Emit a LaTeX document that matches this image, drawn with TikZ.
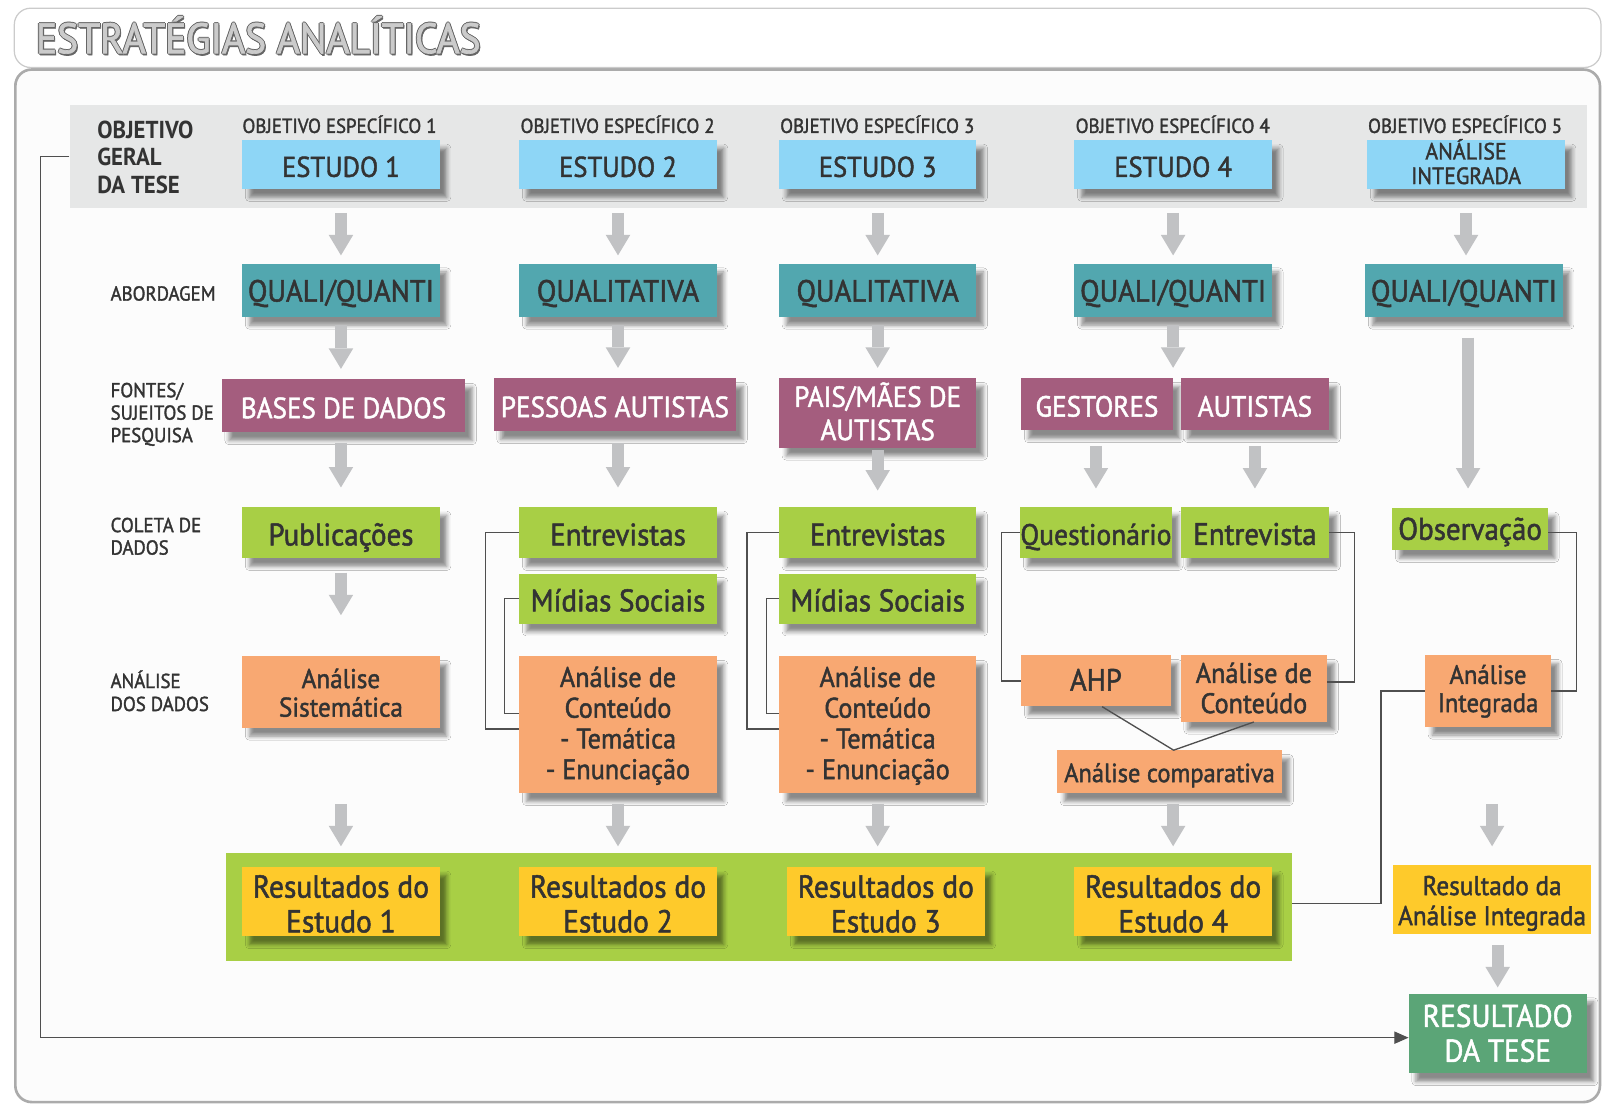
\documentclass[tikz,border=0pt]{standalone}
\usepackage{fontspec}
\setmainfont{PT Sans}[FakeStretch=0.93,UprightFeatures={FakeBold=1.6}]
\usetikzlibrary{arrows.meta,shadows.blur,calc}

\definecolor{cInk}{HTML}{333333}
\definecolor{cBand}{HTML}{E6E7E7}
\definecolor{cSky}{HTML}{8ED6F6}
\definecolor{cTeal}{HTML}{52A7AF}
\definecolor{cPlum}{HTML}{A45D7E}
\definecolor{cLime}{HTML}{A8CF45}
\definecolor{cPeach}{HTML}{F8A872}
\definecolor{cGold}{HTML}{FECA2B}
\definecolor{cSage}{HTML}{5BA577}
\definecolor{cArrow}{HTML}{C1C2C4}
\definecolor{cLink}{HTML}{4F4F4F}
\definecolor{cPanel}{HTML}{FCFCFC}
\definecolor{cRim}{HTML}{ABABAB}
\definecolor{cTitleFill}{HTML}{CBCBCB}
\definecolor{cTitleLine}{HTML}{666666}

% outlined title lettering
\newcommand\ringtext[1]{\leavevmode
  \rlap{\color{cTitleLine}\raisebox{1pt}{#1}}%
  \rlap{\color{cTitleLine}\raisebox{-1pt}{#1}}%
  \rlap{\color{cTitleLine}\kern1pt#1}%
  \rlap{\color{cTitleLine}\kern-1pt#1}%
  \rlap{\color{cTitleLine}\kern1.2pt\raisebox{-1.8pt}{#1}}%
  {\color{cTitleFill}#1}}

\newcommand\fs[2]{\fontsize{#1}{#2}\selectfont}
% stacked lines, baseline on the first line
\newcommand\ml[1]{\begin{tabular}[t]{@{}c@{}}#1\end{tabular}}
\newcommand\mll[1]{\begin{tabular}[t]{@{}l@{}}#1\end{tabular}}

\begin{document}
\begin{tikzpicture}[x=1pt,y=-1pt,
  shade/.style={blur shadow={shadow xshift=7pt,shadow yshift=-8pt,shadow blur radius=4pt,shadow opacity=45}},
  th/.style={text height=#1,text depth=0pt},
  td/.style={text height=0pt,text depth=#1},
  box/.style={inner sep=0pt,text=cInk,minimum width=193pt,shade},
  estudo/.style={box,fill=cSky,minimum height=48pt,font=\fs{28}{32},th=24pt},
  abord/.style={box,fill=cTeal,minimum height=52pt,font=\fs{30}{34},th=22pt},
  fonte/.style={box,fill=cPlum,text=white,minimum height=52pt,font=\fs{28.5}{32.5},th=24pt},
  coleta/.style={box,fill=cLime,minimum height=50pt,font=\fs{30.5}{34},th=25pt},
  anal/.style={box,fill=cPeach,font=\fs{27.6}{30}},
  result/.style={box,fill=cGold,minimum height=68pt,font=\fs{31}{34},td=8pt},
  hdr/.style={anchor=base west,inner sep=0pt,text=cInk,font=\fs{19.8}{22}},
  rowlab/.style={anchor=base west,inner sep=0pt,text=cInk,font=\fs{19.8}{22}},
  bigarrow/.style={draw=cArrow,line width=12pt,-{Triangle[width=24pt,length=20pt,line width=0pt]}},
  link/.style={draw=cLink,line width=1.3pt},
]
\useasboundingbox (0,0) rectangle (1568,1080);

% frames
\draw[fill=cPanel,draw=cRim,line width=2.6pt,rounded corners=16pt] (15,68) rectangle (1565,1078);
\draw[fill=white,draw=cTitleFill,line width=1.2pt,rounded corners=16pt] (14,8) rectangle (1566,66);
\node[anchor=base west,inner sep=0pt,font=\fs{41.6}{44}] (title) at (35,52) {\ringtext{ESTRATÉGIAS ANALÍTICAS}};

% header band
\node[fill=cBand,minimum width=1484pt,minimum height=100pt,inner sep=0pt] (band) at (810,153) {};
\node[rowlab,font=\bfseries\fs{24}{27}] (geral) at (95,135) {\mll{OBJETIVO\\GERAL\\DA TESE}};

\node[hdr] (h1) at (237,130) {OBJETIVO ESPECÍFICO 1};
\node[hdr] (h2) at (509,130) {OBJETIVO ESPECÍFICO 2};
\node[hdr] (h3) at (763,130) {OBJETIVO ESPECÍFICO 3};
\node[hdr] (h4) at (1052,130) {OBJETIVO ESPECÍFICO 4};
\node[hdr] (h5) at (1338,130) {OBJETIVO ESPECÍFICO 5};

\node[estudo] (e1) at (333.5,161) {ESTUDO 1};
\node[estudo] (e2) at (604.5,161) {ESTUDO 2};
\node[estudo] (e3) at (858.5,161) {ESTUDO 3};
\node[estudo] (e4) at (1147.5,161) {ESTUDO 4};
\node[estudo,font=\fs{23}{24},td=10pt] (e5) at (1434,161) {\ml{ANÁLISE\\INTEGRADA}};

% row labels
\node[rowlab] (l1) at (108,294) {ABORDAGEM};
\node[rowlab] (l2) at (108,388.5) {\mll{FONTES/\\SUJEITOS DE\\PESQUISA}};
\node[rowlab] (l3) at (108,520.5) {\mll{COLETA DE\\DADOS}};
\node[rowlab,font=\fs{19.8}{22.5}] (l4) at (108,673) {\mll{ANÁLISE\\DOS DADOS}};

% approach
\node[abord] (q1) at (333.5,284) {QUALI/QUANTI};
\node[abord] (q2) at (604.5,284) {QUALITATIVA};
\node[abord] (q3) at (858.5,284) {QUALITATIVA};
\node[abord] (q4) at (1147.5,284) {QUALI/QUANTI};
\node[abord] (q5) at (1432,284) {QUALI/QUANTI};

% sources
\node[fonte,minimum width=238pt] (b1) at (336,397) {BASES DE DADOS};
\node[fonte,minimum width=237pt] (b2) at (601.5,396) {PESSOAS AUTISTAS};
\node[fonte,minimum height=68pt,td=12pt] (b3) at (858.5,404) {\ml{PAIS/MÃES DE\\AUTISTAS}};
\node[fonte,minimum width=148pt,minimum height=51pt] (b4) at (1073,395.5) {GESTORES};
\node[fonte,minimum width=145pt,minimum height=51pt] (b5) at (1227.5,395.5) {AUTISTAS};

% data collection
\node[coleta] (p1) at (333.5,521) {Publicações};
\node[coleta] (c2a) at (604.5,521) {Entrevistas};
\node[coleta,minimum height=49pt] (c2b) at (604.5,585.5) {Mídias Sociais};
\node[coleta] (c3a) at (858.5,521) {Entrevistas};
\node[coleta,minimum height=49pt] (c3b) at (858.5,585.5) {Mídias Sociais};
\node[coleta,minimum width=146pt,font=\fs{29}{34},th=24pt] (c4a) at (1072,521) {Questionário};
\node[coleta,minimum width=145pt,th=24pt] (c4b) at (1227.5,521) {Entrevista};
\node[coleta,minimum width=152pt,minimum height=41pt,th=21pt] (c5) at (1438,517.5) {Observação};

% analysis
\node[anal,minimum height=70pt,font=\fs{26.5}{28},td=8pt] (a1) at (333.5,677) {\ml{Análise\\Sistemática}};
\node[anal,minimum height=134pt,td=74pt] (a2) at (604.5,709) {\ml{Análise de\\Conteúdo\\- Temática\\- Enunciação}};
\node[anal,minimum height=134pt,td=74pt] (a3) at (858.5,709) {\ml{Análise de\\Conteúdo\\- Temática\\- Enunciação}};
\node[anal,minimum width=146pt,minimum height=50pt,font=\fs{30}{34},th=19pt] (a4a) at (1072,666) {AHP};
\node[anal,minimum width=143pt,minimum height=65pt,font=\fs{27.6}{29.5},td=11pt] (a4b) at (1226.5,673.5) {\ml{Análise de\\Conteúdo}};
\node[anal,minimum width=220pt,minimum height=42pt,font=\fs{25.7}{28},th=20pt] (a4c) at (1144,755) {Análise comparativa};
\node[anal,minimum width=123pt,minimum height=70pt,font=\fs{26}{27.5},td=14pt] (a5) at (1455.5,676) {\ml{Análise\\Integrada}};

% results
\node[fill=cLime,minimum width=1043pt,minimum height=106pt,inner sep=0pt] (rp) at (742.5,887) {};
\node[result] (r1) at (333.5,882) {\ml{Resultados do\\Estudo 1}};
\node[result] (r2) at (604.5,882) {\ml{Resultados do\\Estudo 2}};
\node[result] (r3) at (866.5,882) {\ml{Resultados do\\Estudo 3}};
\node[result] (r4) at (1147.5,882) {\ml{Resultados do\\Estudo 4}};
\node[inner sep=0pt,text=cInk,fill=cGold,minimum width=193pt,minimum height=68pt,font=\fs{26.5}{29.5},td=9pt] (r5) at (1459.5,880) {\ml{Resultado da\\Análise Integrada}};
\node[box,fill=cSage,text=white,minimum width=174pt,minimum height=78pt,font=\fs{30.8}{34},td=13pt] (tese) at (1465,1011) {\ml{RESULTADO\\DA TESE}};

% block arrows
\foreach \e/\q in {e1/q1,e2/q2,e3/q3,e4/q4,e5/q5}
  \draw[bigarrow,shorten <=5pt,shorten >=8pt] (\e.south |- band.south) -- (\e.south |- \q.north);
\foreach \q/\b in {q1/b1,q2/b2,q3/b3,q4/b4}
  \draw[bigarrow,shorten <=8pt,shorten >=10pt] (\q.south) -- (\q.south |- \b.north);
\draw[bigarrow,shorten <=20pt,shorten >=19pt] ([xshift=4pt]q5.south) -- ([xshift=4pt]q5.south |- c5.north);
\draw[bigarrow,shorten <=10pt,shorten >=19pt] (p1.north |- b1.south) -- (p1.north);
\draw[bigarrow,shorten <=11pt,shorten >=19pt] (c2a.north |- b2.south) -- (c2a.north);
\draw[bigarrow,shorten <=2pt,shorten >=16pt] (b3.south) -- (c3a.north);
\draw[bigarrow,shorten <=15pt,shorten >=18pt] (c4a.north |- b4.south) -- (c4a.north);
\draw[bigarrow,shorten <=15pt,shorten >=18pt] (c4b.north |- b5.south) -- (c4b.north);
\draw[bigarrow,shorten <=14pt,shorten >=40pt] (p1.south) -- (a1.north);
\draw[bigarrow,shorten <=74pt,shorten >=20pt] (a1.south) -- (r1.north);
\draw[bigarrow,shorten <=10pt,shorten >=20pt] (a2.south) -- (r2.north);
\draw[bigarrow,shorten <=10pt,shorten >=20pt] (a3.south) -- (a3.south |- r3.north);
\draw[bigarrow,shorten <=10pt,shorten >=20pt] (r4.north |- a4c.south) -- (r4.north);
\draw[bigarrow,shorten <=75pt,shorten >=18pt] (r5.north |- a5.south) -- (r5.north);
\draw[bigarrow,shorten <=10pt,shorten >=6pt] (tese.north |- r5.south) -- (tese.north);

% thin connectors
\draw[link] (c2a.west) -- ++(-33,0) |- ([yshift=-4pt]a2.west);
\draw[link] (c2b.west) -- ++(-14,0) |- ([yshift=11pt]a2.west);
\draw[link] (c3a.west) -- ++(-31,0) |- ([yshift=-4pt]a3.west);
\draw[link] (c3b.west) -- ++(-12,0) |- ([yshift=11pt]a3.west);
\draw[link] (c4a.west) -- ++(-18,0) |- (a4a.west);
\draw[link] (c4b.east) -- ++(25,0) |- ([yshift=6.5pt]a4b.east);
\draw[link] ([xshift=6pt]a4a.south) -- ([xshift=4pt]a4c.north) -- (a4b.south);
\draw[link] ([yshift=-3.5pt]c5.east) -- ++(28,0) |- (a5.east);
\draw[link] (a5.west) -- ++(-43,0) |- ([yshift=3pt]rp.east);
\draw[link,-{Triangle[length=14pt,width=12pt]}] (band.west) -- ++(-28,0) |- ([yshift=-4pt]tese.west);
\end{tikzpicture}
\end{document}
